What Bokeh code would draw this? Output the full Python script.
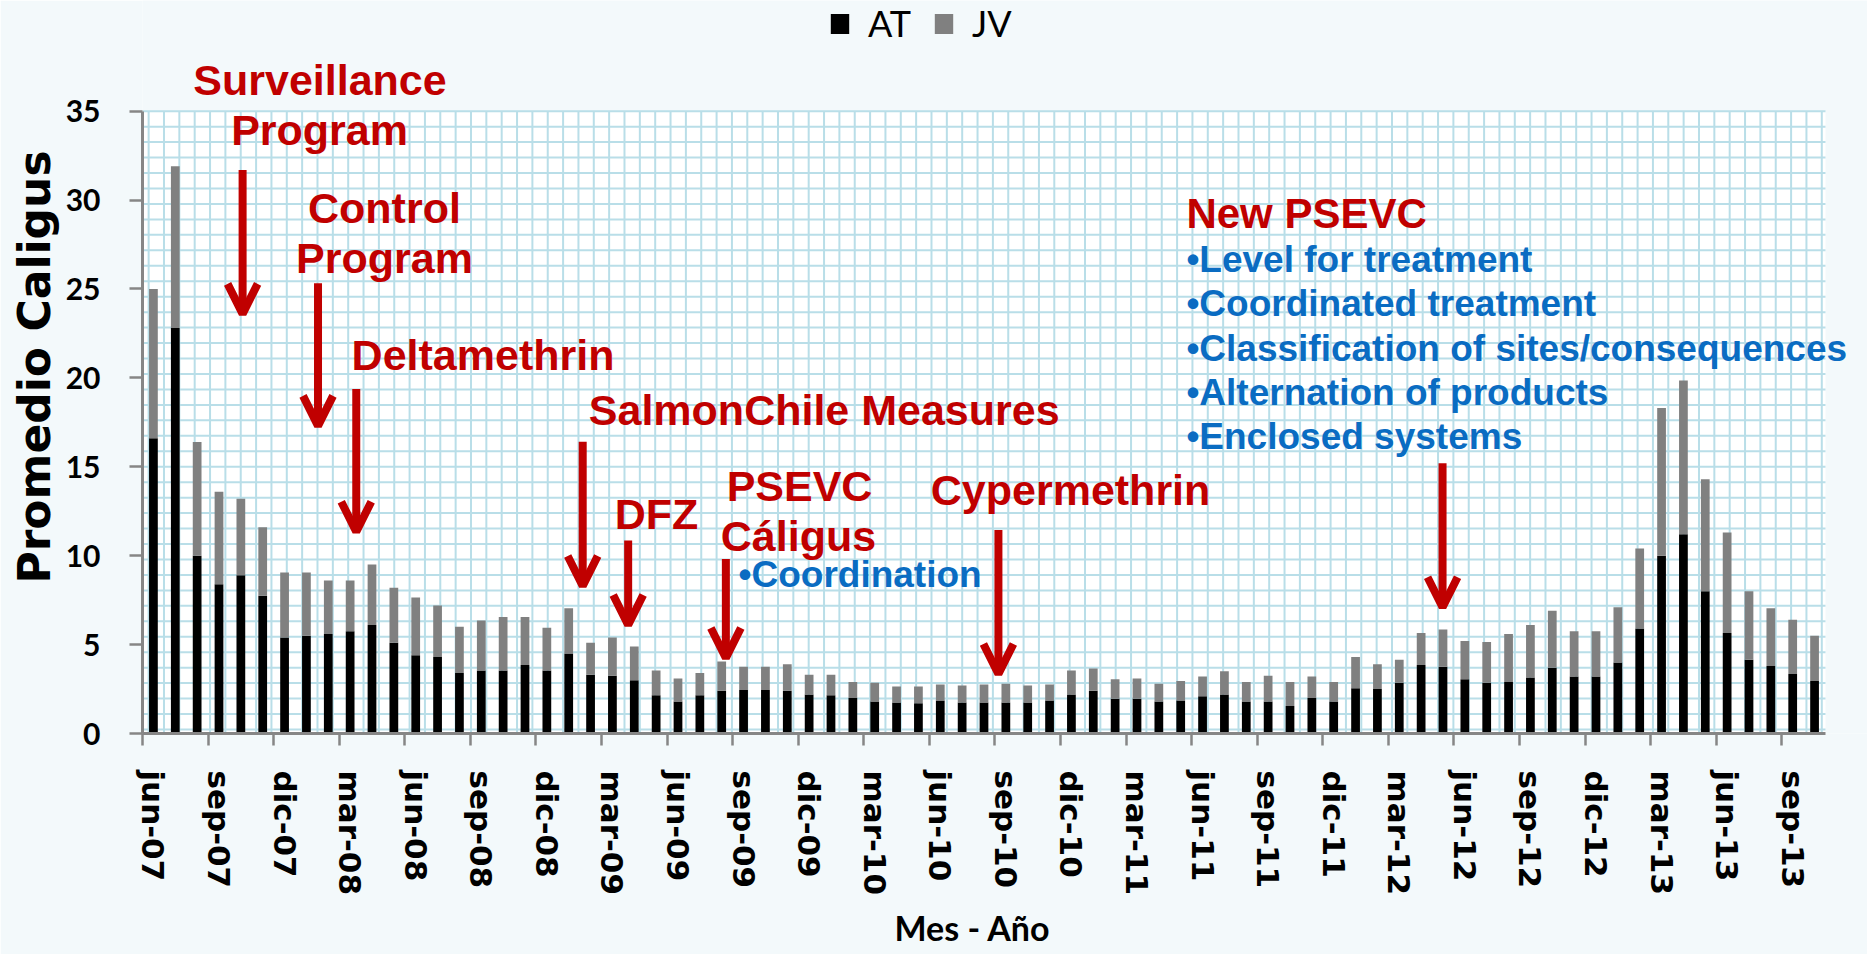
from bokeh.plotting import figure
from bokeh.models import (ColumnDataSource, Range1d, LinearAxis, FixedTicker, Legend, LegendItem,
                          BoxAnnotation, Arrow, OpenHead, Title)
from bokeh.core.properties import value
from bokeh.embed import file_html
from bokeh.resources import INLINE
import numpy as np

# ---------------- data ----------------
MES = ["ene", "feb", "mar", "abr", "may", "jun", "jul", "ago", "sep", "oct", "nov", "dic"]
N_MONTHS = 77  # jun-07 .. oct-13
months = [f"{MES[(5 + i) % 12]}-{7 + (5 + i) // 12:02d}" for i in range(N_MONTHS)]

AT = [16.6, 22.8, 10.0, 8.4, 8.9, 7.75, 5.4, 5.5, 5.6, 5.75,
      6.1, 5.1, 4.4, 4.3, 3.4, 3.55, 3.55, 3.85, 3.55, 4.5,
      3.3, 3.25, 3.0, 2.15, 1.8, 2.15, 2.4, 2.45, 2.45, 2.4,
      2.2, 2.15, 2.0, 1.8, 1.75, 1.7, 1.85, 1.75, 1.75, 1.75,
      1.75, 1.85, 2.2, 2.4, 1.95, 1.95, 1.8, 1.85, 2.1, 2.2,
      1.8, 1.8, 1.55, 2.0, 1.8, 2.55, 2.5, 2.85, 3.85, 3.75,
      3.05, 2.85, 2.9, 3.15, 3.7, 3.2, 3.2, 4.0, 5.9, 10.0,
      11.2, 8.0, 5.65, 4.15, 3.8, 3.35, 2.95]
JV = [8.4, 9.1, 6.4, 5.2, 4.3, 3.85, 3.65, 3.55, 3.0, 2.85,
      3.4, 3.1, 3.25, 2.9, 2.6, 2.8, 3.0, 2.7, 2.4, 2.55,
      1.8, 2.15, 1.9, 1.4, 1.3, 1.25, 1.65, 1.3, 1.3, 1.5,
      1.1, 1.15, 0.9, 1.05, 0.9, 0.95, 0.9, 0.95, 1.0, 1.05,
      0.95, 0.9, 1.35, 1.25, 1.1, 1.15, 1.0, 1.1, 1.1, 1.3,
      1.1, 1.45, 1.35, 1.2, 1.1, 1.75, 1.4, 1.3, 1.8, 2.1,
      2.15, 2.3, 2.7, 2.95, 3.2, 2.55, 2.55, 3.1, 4.5, 8.3,
      8.65, 6.3, 5.65, 3.85, 3.25, 3.05, 2.55]
SERIES = ["AT", "JV"]
Y_TICKS = [0, 5, 10, 15, 20, 25, 30, 35]
LABEL_EVERY = 3

# annotation texts (red headings)
RED_TEXT = ["Surveillance", "Program", "Control", "Program", "Deltamethrin",
            "SalmonChile Measures", "DFZ", "PSEVC", "Cáligus", "Cypermethrin"]
RED_X = [7.62, 7.60, 10.57, 10.57, 15.08, 30.69, 23.02, 29.56, 29.51, 41.96]
RED_Y = [36.01, 33.20, 28.85, 26.02, 20.55, 17.45, 11.64, 13.18, 10.35, 12.96]
NEW_TEXT = ["New PSEVC"]
NEW_X = [47.26]
NEW_Y = [28.51]
BLUE_TEXT = ["•Level for treatment", "•Coordinated treatment",
             "•Classification of sites/consequences", "•Alternation of products",
             "•Enclosed systems"]
BLUE_X = [47.26] * 5
BLUE_Y = [25.90, 23.43, 20.94, 18.45, 15.99]
COORD_TEXT = ["•Coordination"]
COORD_X = [26.77]
COORD_Y = [8.23]
# arrows: x (month index), top and tip (Promedio Caligus units)
ARROW_X = [4.08, 7.53, 9.28, 19.64, 21.72, 26.19, 38.66, 58.98]
ARROW_TOP = [31.69, 25.32, 19.38, 16.41, 10.85, 9.82, 11.44, 15.20]
ARROW_TIP = [23.6, 17.3, 11.35, 8.3, 6.1, 4.25, 3.35, 7.1]

# ---------------- styling ----------------
RED = "#c00000"
BLUE = "#0a6cc2"
GRID = "#b9dee8"
BG = "#f3f9fb"
AXIS_GREY = "#868686"
TEXT_SHIFT = -13  # px, baseline correction for annotation texts

W, H = 1867, 954
LEFT, BOTTOM_Y = 142, 735         # frame left / bottom in figure px
PX_X = 21.857                      # px per month
PX_Y = 17.829                      # px per unit
X_END = -0.5 + (W - LEFT) / PX_X
Y_END = BOTTOM_Y / PX_Y
X_MAX = N_MONTHS - 0.5
Y_MAX = 35

p = figure(width=W, height=H, output_backend="svg", toolbar_location=None,
           x_range=Range1d(-0.5, X_END), y_range=Range1d(0, Y_END),
           x_axis_type=None, y_axis_type=None,
           min_border_left=LEFT, min_border_right=0, min_border_top=0,
           min_border_bottom=H - BOTTOM_Y)
p.outline_line_color = None
p.background_fill_color = BG
p.border_fill_color = BG

# white graph-paper area
p.add_layout(BoxAnnotation(left=-0.5, right=X_MAX, bottom=0, top=Y_MAX,
                           fill_color="white", fill_alpha=1, line_color=None,
                           level="underlay"))
gx = np.arange(-0.5 + 15.35 / PX_X * 0.4, X_MAX, 15.35 / PX_X)
gy = np.arange(Y_MAX, 0, -15.5 / PX_Y)
p.segment(x0=gx, y0=0, x1=gx, y1=Y_MAX, line_color=GRID, line_width=2)
p.segment(x0=-0.5, y0=gy, x1=X_MAX, y1=gy, line_color=GRID, line_width=2)

src = ColumnDataSource(dict(x=list(range(N_MONTHS)), AT=AT, JV=JV))
rs = p.vbar_stack(SERIES, x="x", width=0.4, fill_color=["#000000", "#808080"],
                  line_color=None, source=src)

# axes
yax = LinearAxis(ticker=FixedTicker(ticks=Y_TICKS), bounds=(0, Y_MAX))
yax.axis_line_color = AXIS_GREY
yax.axis_line_width = 3
yax.major_tick_line_color = AXIS_GREY
yax.major_tick_line_width = 2.5
yax.major_tick_out = 13
yax.major_tick_in = 0
yax.minor_tick_line_color = None
yax.major_label_standoff = 29
yax.major_label_text_font = "Lato"
yax.major_label_text_font_style = "bold"
yax.major_label_text_font_size = "30px"
yax.major_label_text_color = "black"
p.add_layout(yax, "left")
p.add_layout(Title(text="Promedio Caligus", align="center", text_font="DejaVu Sans",
                   text_font_style="bold", text_font_size="44px", text_color="black",
                   standoff=6), "left")

lab_ticks = list(range(0, N_MONTHS, LABEL_EVERY))
bound_ticks = [t - 0.5 for t in range(0, N_MONTHS - 1, LABEL_EVERY)]
xax = LinearAxis(ticker=FixedTicker(ticks=lab_ticks, minor_ticks=bound_ticks),
                 bounds=(-0.5, X_MAX))
xax.major_label_overrides = {t: months[t] for t in lab_ticks}
xax.axis_line_color = AXIS_GREY
xax.axis_line_width = 3
xax.major_tick_line_color = None
xax.major_tick_out = 12
xax.major_tick_in = 0
xax.minor_tick_line_color = AXIS_GREY
xax.minor_tick_line_width = 2.5
xax.minor_tick_out = 12
xax.minor_tick_in = 0
xax.major_label_orientation = "vertical"
xax.major_label_standoff = 25
xax.major_label_text_font = "DejaVu Sans"
xax.major_label_text_font_style = "bold"
xax.major_label_text_font_size = "31px"
xax.major_label_text_color = "black"
p.add_layout(xax, "below")
p.add_layout(Title(text="Mes - Año", align="left", offset=752, text_font="Lato",
                   text_font_style="bold", text_font_size="34px", text_color="black",
                   text_line_height=1.0, standoff=13), "below")

# annotations
common = dict(text_font=value("Liberation Sans"), text_font_style="bold",
              text_baseline="alphabetic", y_offset=TEXT_SHIFT)
p.text(x=RED_X, y=RED_Y, text=RED_TEXT, text_color=RED, text_font_size=value("43px"),
       text_align="center", **common)
p.text(x=NEW_X, y=NEW_Y, text=NEW_TEXT, text_color=RED, text_font_size=value("42px"),
       text_align="left", **common)
p.text(x=BLUE_X, y=BLUE_Y, text=BLUE_TEXT, text_color=BLUE, text_font_size=value("37px"),
       text_align="left", **common)
p.text(x=COORD_X, y=COORD_Y, text=COORD_TEXT, text_color=BLUE, text_font_size=value("37px"),
       text_align="left", **common)

for xa, y0, y1 in zip(ARROW_X, ARROW_TOP, ARROW_TIP):
    p.add_layout(Arrow(x_start=xa, y_start=y0, x_end=xa, y_end=y1,
                       line_color=RED, line_width=8,
                       end=OpenHead(size=30, line_color=RED, line_width=8)))

legend = Legend(items=[LegendItem(label=s, renderers=[r]) for s, r in zip(SERIES, rs)],
                orientation="horizontal", location=(686, 688),
                glyph_width=23, glyph_height=25, label_standoff=17, spacing=21,
                padding=0, margin=0, border_line_color=None, background_fill_alpha=0,
                label_text_font="Lato", label_text_font_size="36px", label_text_color="black")
p.add_layout(legend)

open("out.html", "w").write(file_html(p, INLINE))
